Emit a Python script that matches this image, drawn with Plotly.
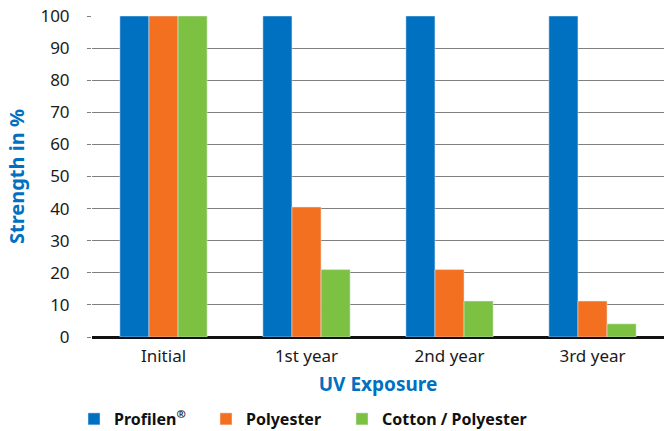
import plotly.graph_objects as go

categories = ["Initial", "1st year", "2nd year", "3rd year"]
profilen = [100, 100, 100, 100]
polyester = [100, 40.5, 21, 11.2]
cotton_poly = [100, 21, 11.2, 4.1]
y_ticks = [0, 10, 20, 30, 40, 50, 60, 70, 80, 90, 100]

FONT = "Noto Sans"
W, H = 672, 431
fig = go.Figure()
fig.add_bar(x=categories, y=profilen, name="Profilen<sup>®</sup>", marker_color="#0070c0", legend="legend")
fig.add_bar(x=categories, y=polyester, name="Polyester", marker_color="#f37021", legend="legend2")
fig.add_bar(x=categories, y=cotton_poly, name="Cotton / Polyester", marker_color="#7dc142", legend="legend3")

legend_font = dict(family=FONT, size=16, color="#111111", weight="bold")
def leg(px_left):
    return dict(orientation="h", xref="container", yref="container",
                x=px_left / W, xanchor="left", y=(H - 419) / H, yanchor="middle",
                font=legend_font, itemwidth=30, bgcolor="rgba(0,0,0,0)")

fig.update_layout(
    width=W, height=H,
    margin=dict(l=92, r=8, t=16, b=94, autoexpand=False),
    paper_bgcolor="white", plot_bgcolor="white",
    barmode="group", bargap=0.39, bargroupgap=0,
    font=dict(family=FONT, size=16, color="#1a1a1a"),
    showlegend=True,
    legend=leg(74), legend2=leg(206), legend3=leg(342),
)
fig.update_xaxes(
    showline=True, linecolor="#111111", linewidth=1.5,
    tickfont=dict(family=FONT, size=17, color="#1a1a1a"),
    ticks="", showgrid=False, ticklabelstandoff=3, automargin=False,
    title=dict(text="UV Exposure", font=dict(family=FONT, size=19, color="#0070c0", weight="bold"), standoff=12),
)
fig.update_yaxes(
    range=[0, 100], tickvals=y_ticks, automargin=False,
    showgrid=True, gridcolor="#808080", gridwidth=1,
    zeroline=True, zerolinecolor="#111111", zerolinewidth=1.5,
    ticks="outside", ticklen=4, tickcolor="#808080", ticklabelstandoff=14,
    tickfont=dict(family=FONT, size=17, color="#1a1a1a"),
    title=dict(text="Strength in %", font=dict(family=FONT, size=20, color="#0070c0", weight="bold"), standoff=10),
)
fig.write_html("out.html", config={"displayModeBar": False},
               post_script="document.body.style.margin='0';")
